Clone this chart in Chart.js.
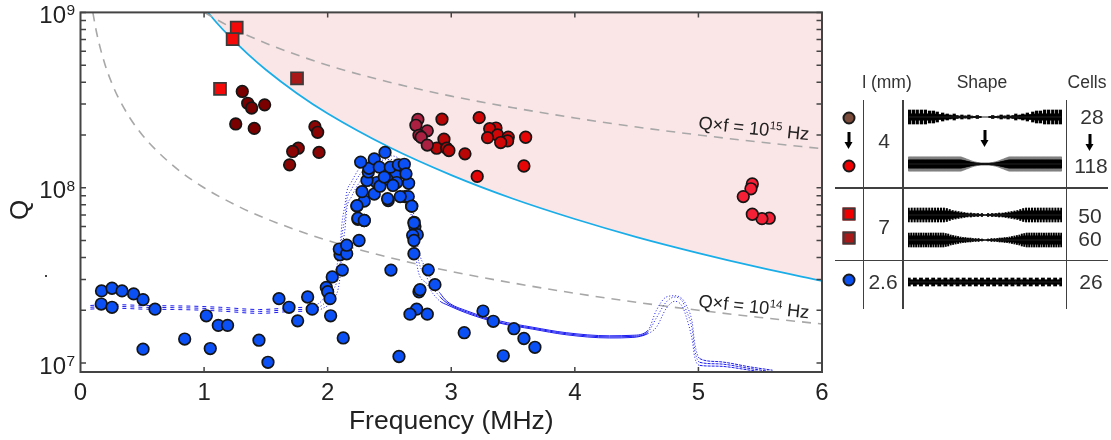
<!DOCTYPE html>
<html>
<head>
<meta charset="utf-8">
<title>Q versus frequency</title>
<script src="https://cdn.jsdelivr.net/npm/chart.js@4"></script>
<style>
	html, body { margin: 0; padding: 0; background: #fff; }
	body { width: 1111px; height: 440px; position: relative; overflow: hidden; font-family: "Liberation Sans", Arial, sans-serif; color: #333; }
	#mainChart { position: absolute; left: 0; top: 0; }
	.rule { position: absolute; background: #404040; }
	.txt { position: absolute; transform: translate(-50%, -50%); white-space: nowrap; }
	.head { font-size: 17.5px; }
	.num { font-size: 21px; }
	.mark { position: absolute; box-sizing: border-box; border: 2px solid #1a1a1a; transform: translate(-50%, -50%); }
	.round { width: 13px; height: 13px; border-radius: 50%; }
	.square { width: 13px; height: 13px; border-color: #3a3a3a; }
	.arrow { position: absolute; width: 3px; height: 12px; background: #000; transform: translateX(-50%); }
	.arrow::after { content: ""; position: absolute; left: -3px; top: 10px; border-left: 4.5px solid transparent; border-right: 4.5px solid transparent; border-top: 7px solid #000; }
	.shape { position: absolute; left: 908px; width: 154px; height: 18px; }
</style>
</head>
<body>
<canvas id="mainChart" width="1111" height="440"></canvas>

<!-- small stray mark left of the axis -->
<div class="rule" style="left:45px;top:275px;width:2px;height:2px"></div>

<!-- table on the right -->
<div class="rule" style="left:862.5px;top:100px;width:1.5px;height:209px"></div>
<div class="rule" style="left:902px;top:100px;width:1.5px;height:209px"></div>
<div class="rule" style="left:1065.5px;top:100px;width:1.5px;height:209px"></div>
<div class="rule" style="left:835px;top:187px;width:273px;height:1.5px"></div>
<div class="rule" style="left:835px;top:259.5px;width:273px;height:1.5px"></div>

<div class="txt head" style="left:887px;top:82px">l (mm)</div>
<div class="txt head" style="left:982px;top:82px">Shape</div>
<div class="txt head" style="left:1087px;top:82px">Cells</div>

<div class="txt num" style="left:884px;top:141px">4</div>
<div class="txt num" style="left:884px;top:227px">7</div>
<div class="txt num" style="left:883px;top:282px">2.6</div>
<div class="txt num" style="left:1092px;top:117px">28</div>
<div class="txt num" style="left:1091px;top:166px">118</div>
<div class="txt num" style="left:1090px;top:216px">50</div>
<div class="txt num" style="left:1090px;top:239px">60</div>
<div class="txt num" style="left:1091px;top:282px">26</div>

<div class="mark round" style="left:848.5px;top:118px;background:#7a4a3a"></div>
<div class="mark round" style="left:848.5px;top:166px;background:#f00000"></div>
<div class="mark square" style="left:848.5px;top:214px;background:#f00000"></div>
<div class="mark square" style="left:848.5px;top:237.5px;background:#a81818"></div>
<div class="mark round" style="left:848.5px;top:280px;background:#0a50f0"></div>

<div class="arrow" style="left:848.5px;top:132px"></div>
<div class="arrow" style="left:984.5px;top:130px"></div>
<div class="arrow" style="left:1090px;top:134px"></div>

<canvas class="shape" id="shape28" width="154" height="18" style="top:108px"></canvas>
<canvas class="shape" id="shape118" width="154" height="18" style="top:155px"></canvas>
<canvas class="shape" id="shape50" width="154" height="18" style="top:206px"></canvas>
<canvas class="shape" id="shape60" width="154" height="18" style="top:231px"></canvas>
<canvas class="shape" id="shape26" width="154" height="18" style="top:273px"></canvas>

<script>
// Q values are in millions, frequencies in MHz
const xTicks = [0, 1, 2, 3, 4, 5, 6];
const yMajor = [1e7, 1e8, 1e9];
const yTickLabels = ["7", "8", "9"];
const yMinor = [2e7, 3e7, 4e7, 5e7, 6e7, 7e7, 8e7, 9e7, 2e8, 3e8, 4e8, 5e8, 6e8, 7e8, 8e8, 9e8];

// Q x f = 10^14 and 10^15 guide lines
const guide14F = [0.1, 0.12, 0.15, 0.2, 0.25, 0.3, 0.4, 0.5, 0.6, 0.8, 1, 1.25, 1.5, 2, 2.5, 3, 3.5, 4, 4.5, 5, 5.5, 6];
const guide14Q = [1000, 833, 667, 500, 400, 333, 250, 200, 167, 125, 100, 80, 66.7, 50, 40, 33.3, 28.6, 25, 22.2, 20, 18.2, 16.7];
const guide15F = [1, 1.25, 1.5, 2, 2.5, 3, 3.5, 4, 4.5, 5, 5.5, 6];
const guide15Q = [1000, 800, 667, 500, 400, 333, 286, 250, 222, 200, 182, 167];

// cyan limit, the region above it is shaded
const limitF = [1.03, 1.1, 1.2, 1.35, 1.5, 1.75, 2, 2.5, 3, 3.5, 4, 4.5, 5, 5.5, 6];
const limitQ = [1000, 876, 736, 582, 471, 346, 265, 170, 118, 86.5, 66.3, 52.3, 42.4, 35, 29.4];

// dotted simulation traces
const simF = [0.08, 0.2, 0.33, 0.5, 0.75, 0.91, 1.13, 1.45, 1.72, 1.85, 1.96, 2.04, 2.1, 2.115, 2.14, 2.155, 2.19, 2.26, 2.35, 2.5, 2.6, 2.66, 2.69, 2.73, 2.8, 2.85, 2.91, 2.965, 3.13, 3.39, 3.66, 3.93, 4.28, 4.47, 4.59, 4.66, 4.74, 4.81, 4.87, 4.9, 4.95, 4.97, 5.01, 5.15, 5.42, 5.6];
const simQUpper = [21.3, 21.5, 21.5, 21.3, 21.2, 21.1, 20.8, 20.2, 20.7, 21, 23, 30, 46, 62, 80, 95, 107, 130, 145, 152, 140, 100, 76, 46, 34, 29, 25, 22.5, 19.8, 17.4, 16, 14.9, 14.3, 14.4, 15.3, 20, 23.8, 24.2, 23.2, 21.5, 17, 13, 10.6, 10.2, 9.5, 9.1];
const simQMid = [20.8, 21, 21, 20.8, 20.7, 20.6, 20.3, 19.7, 20.2, 20.3, 21.5, 25.5, 37, 52, 68, 85, 97, 119, 135, 145, 130, 90, 68, 40, 31, 27, 23.8, 22, 19.5, 17.1, 15.8, 14.7, 14.1, 14.2, 15, 18.1, 22.3, 23.8, 22.5, 20.1, 15.5, 11.9, 10.1, 9.9, 9.3, 8.9];
const simQLower = [20.3, 20.5, 20.5, 20.3, 20.2, 20.1, 19.8, 19.2, 19.7, 19.8, 20.5, 23, 31, 44, 58, 76, 88, 108, 125, 138, 122, 80, 60, 34, 28.5, 25, 22.5, 21.5, 19.2, 16.9, 15.6, 14.5, 13.9, 14, 14.7, 16, 20.5, 22.5, 21, 18.5, 13.5, 10.8, 9.7, 9.6, 9.1, 8.7];

// blue circles
const blueF = [0.17, 0.255, 0.336, 0.43, 0.506, 0.603, 0.168, 0.255, 0.506, 0.843, 1.018, 1.05, 1.115, 1.19, 1.444, 1.517, 1.606, 1.687, 1.757, 1.838, 1.875, 1.989, 2.0, 2.019, 2.024, 2.037, 2.118, 2.126, 2.1, 2.094, 2.154, 2.154, 2.254, 2.245, 2.296, 2.237, 2.296, 2.512, 2.577, 2.49, 2.68, 2.706, 2.725, 2.688, 2.698, 2.698, 2.814, 2.868, 2.739, 2.747, 2.72, 2.666, 2.806, 3.105, 3.257, 3.34, 3.507, 3.588, 3.677, 3.421, 2.625, 2.652, 2.587, 2.485, 2.377, 2.55, 2.48, 2.558, 2.396, 2.423, 2.528, 2.655, 2.278, 2.318, 2.329, 2.334, 2.267, 2.377, 2.418, 2.507, 2.572, 2.62, 2.634, 2.458, 2.464, 2.68, 2.237, 2.245, 2.296, 2.7, 2.698];
const blueQ = [25.8, 26.7, 25.8, 24.8, 23, 20.3, 21.7, 20.8, 12, 13.7, 18.6, 12.1, 16.4, 16.4, 13.5, 10.1, 23.3, 20.8, 17.4, 23.8, 20.3, 27, 25.5, 23.3, 18.6, 31, 33.9, 13.9, 41.5, 44.7, 42, 47, 50, 66, 65, 78.5, 84, 33.9, 10.9, 84.5, 78.5, 60, 54, 53.5, 50, 42, 34, 28, 25.5, 26.2, 20.3, 19, 19, 14.9, 19.8, 17.3, 15.7, 13.8, 12.3, 11, 89, 89, 89, 86.5, 92, 118, 112, 107, 107, 102, 103, 106, 95, 110, 123, 129, 140, 146, 131, 131, 135, 136, 120, 115, 159, 78.5, 79, 67, 65, 63.5, 63];

// red circles, one dataset per shade
const maroonF = [1.309, 1.353, 1.385, 1.49, 1.256, 1.406];
const maroonQ = [354, 303, 285, 297, 231, 218];
const darkRedF = [1.897, 1.919, 1.762, 1.717, 1.93, 1.692];
const darkRedQ = [223, 207, 168, 161, 159, 135];
const crimsonF = [2.73, 2.714, 2.806, 2.739, 2.757, 2.806];
const crimsonQ = [245, 227, 211, 199, 194, 175];
const brickF = [2.925, 2.941, 2.882, 2.963, 2.981, 3.111];
const brickQ = [246, 189, 168, 168, 163, 156];
const redF = [3.226, 3.362, 3.311, 3.375, 3.294, 3.461, 3.456, 3.4];
const redQ = [251, 219, 217, 200, 193, 194, 185, 181];
const brightF = [3.602, 3.588, 3.21];
const brightQ = [194, 133, 116];
const scarletF = [5.436, 5.425, 5.363, 5.573, 5.514, 5.436];
const scarletQ = [105, 98.6, 89, 67, 66.6, 70.6];

// squares
const squareF = [1.264, 1.231, 1.129];
const squareQ = [818, 704, 366];
const darkSquareF = [1.752];
const darkSquareQ = [421];

// Q x f labels sit along the guide lines
const guideLabels = [
	{ f: 4.996, q: 217e6, exp: "15" },
	{ f: 4.996, q: 20.9e6, exp: "14" }
];

// cell layout of each resonator, left half only since the shapes are symmetric
// x in percent of the length, half = tooth half height, core = centre bar half height
const cells28X = [1, 3.5, 6, 8.7, 11.3, 14, 16.5, 19, 22.5, 25.5, 30, 35, 39.5, 45];
const cells28Half = [7, 7, 7, 7, 7, 6, 6, 5, 4, 3, 3, 2, 2, 1.5];
const cells28Core = [3, 3, 3, 3, 3, 3, 3, 2.5, 2, 2, 1.5, 1, 1, 0.7];
const cells118Half = [7, 7, 7, 7, 7, 7, 7, 7, 7, 7, 7, 7, 7, 7, 7, 7, 7, 7, 7, 7, 7, 7, 7, 7, 7, 7, 7, 7, 7, 7, 7, 7, 7, 7, 7, 7, 7, 7, 7, 7, 7, 6.5, 6, 5.5, 5, 4.5, 4, 3.5, 3, 2.5, 2, 2, 1.5, 1.5, 1.5, 1, 1, 1, 1];
const cells118Core = [4, 4, 4, 4, 4, 4, 4, 4, 4, 4, 4, 4, 4, 4, 4, 4, 4, 4, 4, 4, 4, 4, 4, 4, 4, 4, 4, 4, 4, 4, 4, 4, 4, 4, 4, 4, 4, 4, 4, 4, 4, 3.8, 3.5, 3.2, 2.9, 2.6, 2.3, 2, 1.7, 1.4, 1.2, 1, 0.8, 0.8, 0.6, 0.6, 0.6, 0.5, 0.5];
const cells50X = [0.5, 2.4, 4.3, 6.2, 8.1, 10, 11.9, 13.8, 15.7, 17.6, 19.5, 21.4, 23.3, 25.2, 27.1, 29, 30.9, 32.8, 34.7, 36.6, 38.6, 40.8, 43, 45.4, 48];
const cells50Half = [7, 7, 7, 7, 7, 7, 7, 7, 7, 7, 7, 7, 7, 6.5, 5.5, 4.5, 4, 3.5, 3, 2.5, 2, 2, 1.5, 1.5, 1.5];
const cells50Core = [4, 4, 4, 4, 4, 4, 4, 4, 4, 4, 4, 4, 4, 4, 3.5, 3, 2.5, 2, 1.5, 1.5, 1, 1, 1, 0.8, 0.6];
const cells60X = [0.5, 2.1, 3.7, 5.3, 6.9, 8.5, 10.1, 11.7, 13.3, 14.9, 16.5, 18.1, 19.7, 21.3, 22.9, 24.5, 26.1, 27.7, 29.3, 30.9, 32.5, 34.1, 35.7, 37.3, 38.9, 40.5, 42.1, 43.9, 45.8, 48];
const cells60Half = [7, 7, 7, 7, 7, 7, 7, 7, 7, 7, 7, 7, 7, 7, 7, 6.5, 6, 5, 4.5, 4, 3.5, 3, 2.5, 2.5, 2, 2, 1.5, 1.5, 1.5, 1];
const cells60Core = [4, 4, 4, 4, 4, 4, 4, 4, 4, 4, 4, 4, 4, 4, 4, 4, 3.5, 3, 2.5, 2, 1.8, 1.5, 1.3, 1.2, 1, 1, 0.8, 0.6, 0.6, 0.5];
const cells26Half = [4, 4, 4, 4, 4, 4, 4, 4, 4, 4, 4, 4, 4];
const cells26Core = [2.2, 2.2, 2.2, 2.2, 2.2, 2.2, 2.2, 2.2, 2.2, 2.2, 2.2, 2.2, 2.2];

const fontName = '"Liberation Sans", Arial, sans-serif';

// build {x, y} points, Q arrays in millions
function toPoints(fList, qList) {
	return fList.map((f, i) => ({ x: f, y: qList[i] * 1e6 }));
}

function circles(fList, qList, color, extra) {
	return Object.assign({
		data: toPoints(fList, qList),
		showLine: false,
		pointStyle: "circle",
		pointRadius: 5.8,
		pointBackgroundColor: color,
		pointBorderColor: "#151515",
		pointBorderWidth: 1.7,
		order: 1
	}, extra);
}

function curve(fList, qList, color, width, dash, order) {
	return {
		data: toPoints(fList, qList),
		showLine: true,
		pointRadius: 0,
		borderColor: color,
		borderWidth: width,
		borderDash: dash,
		cubicInterpolationMode: "monotone",
		fill: false,
		order: order
	};
}

// the trace is broken up at low frequency, solid on the long tail, dotted on the steep parts
function simCurve(qList) {
	const ds = curve(simF, qList, "#1c1cf0", 1, [], 8);
	ds.segment = {
		borderDash(ctx) {
			const f = ctx.p0.parsed.x;
			if (f < 1.85) return [4, 4];
			if (f < 2.9) return [1, 2];
			if (f < 4.59) return [];
			if (f < 5) return [1, 2];
			return [3, 1];
		}
	};
	return ds;
}

// frame, inward ticks and the labels that need superscripts
const framePlugin = {
	id: "frame",
	afterDraw(chart) {
		const { ctx, chartArea: { left, right, top, bottom }, scales: { x, y } } = chart;
		ctx.save();
		ctx.strokeStyle = "#444";
		ctx.lineWidth = 2;
		ctx.strokeRect(left, top, right - left, bottom - top);

		ctx.lineWidth = 1.5;
		ctx.beginPath();
		xTicks.slice(1, -1).forEach(v => {
			const px = x.getPixelForValue(v);
			ctx.moveTo(px, top);
			ctx.lineTo(px, top + 5);
			ctx.moveTo(px, bottom);
			ctx.lineTo(px, bottom - 5);
		});
		yMajor.concat(yMinor).forEach(v => {
			const py = y.getPixelForValue(v);
			ctx.moveTo(left, py);
			ctx.lineTo(left + 5.5, py);
			ctx.moveTo(right, py);
			ctx.lineTo(right - 5.5, py);
		});
		ctx.stroke();

		// y tick labels, 10 with the exponent raised
		ctx.fillStyle = "#222";
		ctx.textBaseline = "alphabetic";
		yMajor.forEach((v, i) => {
			const py = y.getPixelForValue(v);
			ctx.textAlign = "right";
			ctx.font = "24px " + fontName;
			ctx.fillText("10", 66, py + 10.5);
			ctx.textAlign = "left";
			ctx.font = "15.5px " + fontName;
			ctx.fillText(yTickLabels[i], 66.5, py + 3);
		});

		// axis name Q, sits a bit below the middle of the axis
		ctx.save();
		ctx.translate(27.5, 210);
		ctx.rotate(-Math.PI / 2);
		ctx.textAlign = "center";
		ctx.font = "26px " + fontName;
		ctx.fillText("Q", 0, 0);
		ctx.restore();

		// tilted labels of the guide lines
		guideLabels.forEach(g => {
			ctx.save();
			ctx.translate(x.getPixelForValue(g.f), y.getPixelForValue(g.q));
			ctx.rotate(5.9 * Math.PI / 180);
			ctx.textAlign = "left";
			ctx.font = "18.3px " + fontName;
			ctx.fillText("Q×f = 10", 0, 0);
			let w = ctx.measureText("Q×f = 10").width;
			ctx.font = "11.5px " + fontName;
			ctx.fillText(g.exp, w, -7);
			w += ctx.measureText(g.exp).width;
			ctx.font = "18.3px " + fontName;
			ctx.fillText(" Hz", w, 0);
			ctx.restore();
		});
		ctx.restore();
	}
};

new Chart(document.getElementById("mainChart"), {
	type: "scatter",
	data: {
		datasets: [
			Object.assign(curve(limitF, limitQ, "#1aaee8", 1.8, [], 10), { fill: "end", backgroundColor: "#fbe6e7" }),
			curve(guide14F, guide14Q, "#a8a8a8", 1.6, [9, 7], 9),
			curve(guide15F, guide15Q, "#a8a8a8", 1.6, [9, 7], 9),
			simCurve(simQUpper),
			simCurve(simQMid),
			simCurve(simQLower),
			circles(blueF, blueQ, "#0a50f5"),
			circles(maroonF, maroonQ, "#7a0000"),
			circles(darkRedF, darkRedQ, "#8c0505"),
			circles(crimsonF, crimsonQ, "#ab2040"),
			circles(brickF, brickQ, "#b80505"),
			circles(redF, redQ, "#d00505"),
			circles(brightF, brightQ, "#e80505"),
			circles(scarletF, scarletQ, "#f52035"),
			circles(squareF, squareQ, "#f50a0a", { pointStyle: "rect", pointRadius: 8.5, pointBorderColor: "#3a3a3a" }),
			circles(darkSquareF, darkSquareQ, "#a81818", { pointStyle: "rect", pointRadius: 8.5, pointBorderColor: "#3a3a3a" })
		]
	},
	options: {
		responsive: false,
		animation: false,
		layout: { padding: { left: 0, top: 12.4, right: 289, bottom: 0 } },
		plugins: { legend: { display: false }, tooltip: { enabled: false } },
		scales: {
			x: {
				type: "linear",
				min: 0,
				max: 6,
				afterBuildTicks(scale) { scale.ticks = xTicks.map(v => ({ value: v })); },
				afterFit(scale) { scale.height = 68; },
				grid: { display: false },
				border: { display: false },
				ticks: { color: "#222", font: { size: 24, family: fontName }, padding: -1, maxRotation: 0 },
				title: { display: true, text: "Frequency (MHz)", color: "#222", font: { size: 26.5, family: fontName }, padding: { top: 0, bottom: 2 } }
			},
			y: {
				type: "logarithmic",
				min: 8.89e6,
				max: 1e9,
				afterFit(scale) { scale.width = 80.5; },
				grid: { display: false },
				border: { display: false },
				ticks: { display: false }
			}
		}
	},
	plugins: [framePlugin]
});

// mirror the left half of a symmetric list
function mirror(list) {
	return list.concat(list.slice().reverse());
}

// one resonator outline, spine line plus two floating bar layers on a linear axis
function drawShape(id, xList, halfList, coreList, toothWidth, coreWidth, toothColor) {
	const half = mirror(halfList);
	const core = mirror(coreList);
	const xs = xList ? xList.concat(xList.slice().reverse().map(v => 100 - v)) : half.map((h, i) => 0.5 + 99 * i / (half.length - 1));
	new Chart(document.getElementById(id), {
		type: "bar",
		data: {
			datasets: [
				{ type: "line", data: [{ x: 0.5, y: 0 }, { x: 99.5, y: 0 }], borderColor: "#222", borderWidth: 1, pointRadius: 0, order: 0 },
				{ data: xs.map((v, i) => ({ x: v, y: [-core[i], core[i]] })), backgroundColor: "#000", barThickness: coreWidth, grouped: false, order: 1 },
				{ data: xs.map((v, i) => ({ x: v, y: [-half[i], half[i]] })), backgroundColor: toothColor, barThickness: toothWidth, grouped: false, order: 2 }
			]
		},
		options: {
			responsive: false,
			animation: false,
			layout: { padding: 0 },
			plugins: { legend: { display: false }, tooltip: { enabled: false } },
			scales: {
				x: { type: "linear", min: 0, max: 100, offset: false, display: false },
				y: { type: "linear", min: -9, max: 9, display: false }
			}
		}
	});
}

drawShape("shape28", cells28X, cells28Half, cells28Core, 2.6, 8, "#000");
drawShape("shape118", null, cells118Half, cells118Core, 2, 2, "#808080");
drawShape("shape50", cells50X, cells50Half, cells50Core, 1.4, 5, "#000");
drawShape("shape60", cells60X, cells60Half, cells60Core, 1.3, 5, "#000");
drawShape("shape26", null, cells26Half, cells26Core, 3.2, 6, "#000");
</script>
</body>
</html>
